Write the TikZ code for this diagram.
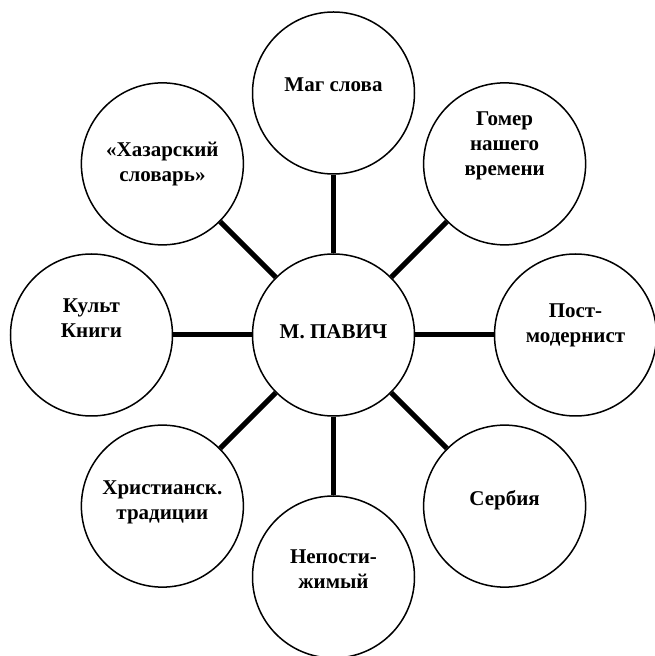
\documentclass[tikz,border=0pt]{standalone}
\usepackage{fontspec}
\setmainfont{Liberation Serif}
\usetikzlibrary{calc}
\begin{document}
\begin{tikzpicture}[x=1pt,y=1pt,
  circ/.style={circle,draw=black,line width=1.5pt,minimum size=162pt,inner sep=0pt,fill=white},
  txt/.style={align=center,font=\bfseries\fontsize{21}{25}\selectfont,inner sep=0pt},
  conn/.style={line width=5pt}]
\useasboundingbox (0,0) rectangle (654,656);
\fill[white] (0,0) rectangle (654,656);
\def\R{242}
\coordinate (o) at (333.5,321);
\node[circ] (c)  at (o) {};
\node[circ] (n1) at ($(o)+(90:\R)$) {};
\node[circ] (n2) at ($(o)+(45:\R)$) {};
\node[circ] (n3) at ($(o)+(0:\R)$) {};
\node[circ] (n4) at ($(o)+(-45:\R)$) {};
\node[circ] (n5) at ($(o)+(-90:\R)$) {};
\node[circ] (n6) at ($(o)+(-135:\R)$) {};
\node[circ] (n7) at ($(o)+(180:\R)$) {};
\node[circ] (n8) at ($(o)+(135:\R)$) {};
\foreach \n in {n1,n2,n3,n4,n5,n6,n7,n8} \draw[conn] (c) -- (\n);
\node[txt] (tc) at ([yshift=3pt]c.center) {М. ПАВИЧ};
\node[txt] (t1) at ([yshift=8pt]n1.center) {Маг слова};
\node[txt] (t2) at ([yshift=18pt]n2.center) {Гомер\\нашего\\времени};
\node[txt] (t3) at ([yshift=10pt]n3.center) {Пост-\\модернист};
\node[txt] (t4) at ([yshift=6pt]n4.center) {Сербия};
\node[txt] (t5) at ([yshift=8pt]n5.center) {Непости-\\жимый};
\node[txt] (t6) at ([yshift=4pt]n6.center) {Христианск.\\традиции};
\node[txt] (t7) at ([yshift=17pt]n7.center) {Культ\\Книги};
\node[txt] (t8) at ([yshift=0pt]n8.center) {«Хазарский\\словарь»};
\end{tikzpicture}
\end{document}
